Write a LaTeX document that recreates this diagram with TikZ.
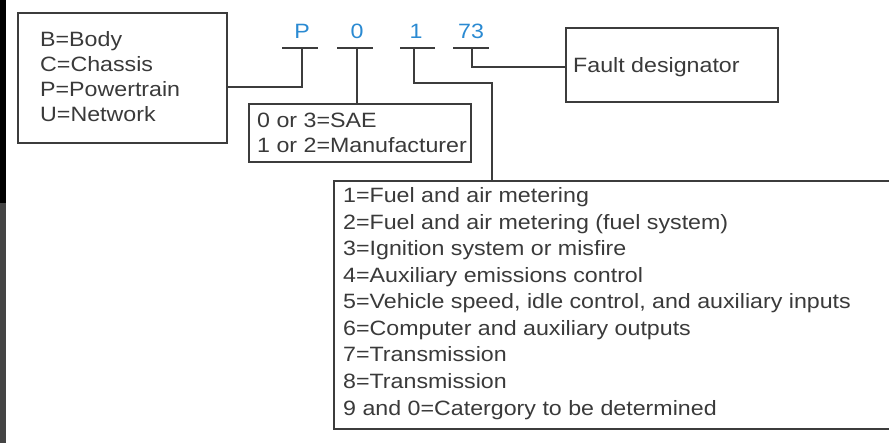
\documentclass[tikz,border=0pt]{standalone}
\usepackage{fontspec}
\setmainfont{Liberation Sans}
\definecolor{linec}{HTML}{3C3C3C}
\definecolor{textc}{HTML}{3A3A3A}
\definecolor{bluec}{HTML}{2A8AD2}
\definecolor{barg}{HTML}{444444}
\newcommand{\wide}[1]{\scalebox{1.12}[1]{#1}}
\tikzset{
  box/.style={draw=linec, line width=2.2bp, rectangle, inner sep=0pt, anchor=north west},
  txt/.style={anchor=base west, inner sep=0pt, text=textc, font=\fontsize{20.8}{25}\selectfont},
  digit/.style={anchor=base, inner sep=0pt, text=bluec, font=\fontsize{20.8}{25}\selectfont},
  conn/.style={draw=linec, line width=2.2bp},
}
\begin{document}
\begin{tikzpicture}[x=1bp, y=-1bp]
\useasboundingbox (0,0) rectangle (889,443);
\clip (0,0) rectangle (889,443);
\fill[white] (0,0) rectangle (889,443);
% left edge bar
\fill[black] (0,0) rectangle (6,203);
\fill[barg] (0,203) rectangle (6,443);

% boxes
\node[box, minimum width=209bp, minimum height=130bp] (b1) at (17,12) {};
\node[box, minimum width=222bp, minimum height=58bp] (b2) at (248,103) {};
\node[box, minimum width=570bp, minimum height=248bp] (b3) at (333,180) {};
\node[box, minimum width=212bp, minimum height=74bp] (b4) at (565,27) {};

% box texts
\node[txt] (t1a) at (40,47) {\wide{B=Body}};
\node[txt] (t1b) at (40,72) {\wide{C=Chassis}};
\node[txt] (t1c) at (40,97) {\wide{P=Powertrain}};
\node[txt] (t1d) at (40,122) {\wide{U=Network}};

\node[txt] (t2a) at (257,128) {\wide{0 or 3=SAE}};
\node[txt] (t2b) at (257,153) {\wide{1 or 2=Manufacturer}};

\node[txt] (t4) at (573,73) {\wide{Fault designator}};

\foreach \i/\t in {0/{1=Fuel and air metering},
                   1/{2=Fuel and air metering (fuel system)},
                   2/{3=Ignition system or misfire},
                   3/{4=Auxiliary emissions control},
                   4/{5=Vehicle speed, idle control, and auxiliary inputs},
                   5/{6=Computer and auxiliary outputs},
                   6/{7=Transmission},
                   7/{8=Transmission},
                   8/{9 and 0=Catergory to be determined}}
  \node[txt] (t3\i) at (343,203+26.5*\i) {\wide{\t}};

% code digits
\node[digit] (dP) at (302,39) {\wide{P}};
\node[digit] (d0) at (357,39) {\wide{0}};
\node[digit] (d1) at (416,39) {\wide{1}};
\node[digit] (d73) at (471,39) {\wide{73}};

% underlines
\coordinate (uP) at (302,48);
\coordinate (u0) at (357,48);
\coordinate (u1) at (414,48);
\coordinate (u73) at (472,48);
\draw[conn] (282,48) -- (318,48);
\draw[conn] (337,48) -- (373,48);
\draw[conn] (400,48) -- (435,48);
\draw[conn] (453,48) -- (489,48);

% connectors
\coordinate (kP) at (302,87);
\coordinate (k1) at (492,83);
\coordinate (k73) at (472,67);
\draw[conn] (uP) -- (kP) -- (b1.east |- kP);
\draw[conn] (u0) -- (u0 |- b2.north);
\draw[conn] (u1) |- (k1) -- (k1 |- b3.north);
\draw[conn] (u73) -- (k73) -- (b4.west |- k73);
\end{tikzpicture}
\end{document}
